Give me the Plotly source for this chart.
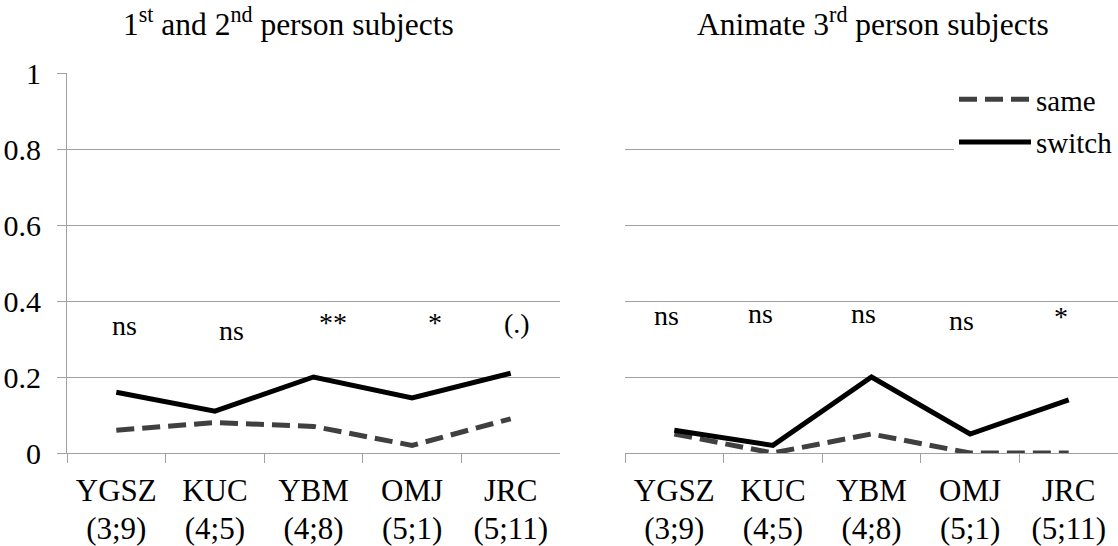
import plotly.graph_objects as go

children = ["YGSZ", "KUC", "YBM", "OMJ", "JRC"]
ages = ["(3;9)", "(4;5)", "(4;8)", "(5;1)", "(5;11)"]
left_same = [0.06, 0.08, 0.07, 0.02, 0.09]
left_switch = [0.16, 0.11, 0.20, 0.145, 0.21]
right_same = [0.05, 0.00, 0.05, 0.00, 0.00]
right_switch = [0.06, 0.02, 0.20, 0.05, 0.14]
left_sig = ["ns", "ns", "**", "*", "(.)"]
right_sig = ["ns", "ns", "ns", "ns", "*"]
left_title = "1<sup>st</sup> and 2<sup>nd</sup> person subjects"
right_title = "Animate 3<sup>rd</sup> person subjects"
y_ticks = [0, 0.2, 0.4, 0.6, 0.8, 1]

FONT = "Liberation Serif"
GRID = "#A0A0A0"
SAME_C = "#404040"
W, H = 1118, 546
idx = list(range(len(children)))

fig = go.Figure()
dash = "18px,8px"
fig.add_trace(go.Scatter(x=children, y=left_same, mode="lines", name="same",
                         line=dict(color=SAME_C, width=5, dash=dash),
                         xaxis="x", yaxis="y", legendgroup="a"))
fig.add_trace(go.Scatter(x=children, y=left_switch, mode="lines", name="switch",
                         line=dict(color="black", width=5),
                         xaxis="x", yaxis="y", legendgroup="b"))
fig.add_trace(go.Scatter(x=children, y=right_same, mode="lines", name="same",
                         line=dict(color=SAME_C, width=5, dash=dash),
                         xaxis="x2", yaxis="y2", showlegend=False, legendgroup="a"))
fig.add_trace(go.Scatter(x=children, y=right_switch, mode="lines", name="switch",
                         line=dict(color="black", width=5),
                         xaxis="x2", yaxis="y2", showlegend=False, legendgroup="b"))
# helper (invisible) traces so that the age-label axes are drawn
fig.add_trace(go.Scatter(x=idx, y=left_same, mode="none", xaxis="x3", yaxis="y",
                         showlegend=False, hoverinfo="skip"))
fig.add_trace(go.Scatter(x=idx, y=right_same, mode="none", xaxis="x4", yaxis="y2",
                         showlegend=False, hoverinfo="skip"))

RNG = [-0.5, len(children) - 0.5]
ydom = [(H - 453) / H, (H - 73) / H]
tf = dict(family=FONT, size=31, color="black")
xcommon = dict(type="category", range=RNG, showline=True, linecolor=GRID, linewidth=1,
               ticks="outside", tickson="boundaries", ticklen=9, tickcolor=GRID,
               showgrid=False, tickfont=tf, ticklabelstandoff=10,
               automargin=False, fixedrange=True)
agecommon = dict(type="linear", range=RNG, tickvals=idx, ticktext=ages, side="bottom",
                 showline=False, ticks="", showgrid=False, zeroline=False, tickfont=tf,
                 ticklabelstandoff=54, automargin=False, fixedrange=True)
fig.update_layout(
    xaxis=dict(domain=[67 / W, 560 / W], anchor="y", **xcommon),
    xaxis2=dict(domain=[625 / W, 1.0], anchor="y2", **xcommon),
    xaxis3=dict(overlaying="x", anchor="y", **agecommon),
    xaxis4=dict(overlaying="x2", anchor="y2", **agecommon),
    yaxis=dict(domain=ydom, range=[0, 1], tickvals=y_ticks, showgrid=True,
               gridcolor=GRID, gridwidth=1, showline=True, linecolor=GRID,
               ticks="outside", ticklen=9, tickcolor=GRID, zeroline=False,
               tickfont=dict(family=FONT, size=30, color="black"),
               ticklabelstandoff=10, automargin=False, anchor="x",
               fixedrange=True),
    yaxis2=dict(domain=ydom, range=[0, 1], tickvals=y_ticks, showgrid=True,
                gridcolor=GRID, gridwidth=1, showline=False, showticklabels=False,
                ticks="", zeroline=False, automargin=False, anchor="x2",
                fixedrange=True),
    width=W, height=H,
    margin=dict(l=0, r=0, t=0, b=0),
    plot_bgcolor="white", paper_bgcolor="white",
    showlegend=True,
    legend=dict(x=954 / W, xanchor="left", y=(H - 74) / H, yanchor="top",
                bgcolor="white", borderwidth=0, itemwidth=72, tracegroupgap=2,
                font=dict(family=FONT, size=29, color="black")),
)

anns = []
# significance labels: (x position in category units, y value of text middle)
left_pos = [(0.08, 0.336), (1.17, 0.322), (2.2, 0.343), (3.23, 0.343), (4.06, 0.341)]
right_pos = [(-0.08, 0.362), (0.87, 0.367), (1.92, 0.367), (2.91, 0.349), (3.92, 0.359)]
for txt, (xo, yv) in zip(left_sig, left_pos):
    anns.append(dict(x=xo, y=yv, xref="x", yref="y", text=txt, showarrow=False,
                     xanchor="center", yanchor="middle",
                     font=dict(family=FONT, size=28, color="black")))
for txt, (xo, yv) in zip(right_sig, right_pos):
    anns.append(dict(x=xo, y=yv, xref="x2", yref="y2", text=txt, showarrow=False,
                     xanchor="center", yanchor="middle",
                     font=dict(family=FONT, size=28, color="black")))
anns.append(dict(x=288 / W, y=(H - 22) / H, xref="paper", yref="paper", text=left_title,
                 showarrow=False, xanchor="center", yanchor="middle",
                 font=dict(family=FONT, size=31.5, color="black")))
anns.append(dict(x=873 / W, y=(H - 22) / H, xref="paper", yref="paper", text=right_title,
                 showarrow=False, xanchor="center", yanchor="middle",
                 font=dict(family=FONT, size=31.5, color="black")))
fig.update_layout(annotations=anns)

fig.write_html("out.html", config={"displayModeBar": False},
               post_script="document.body.style.margin='0';"
               "document.body.style.overflow='hidden';")
